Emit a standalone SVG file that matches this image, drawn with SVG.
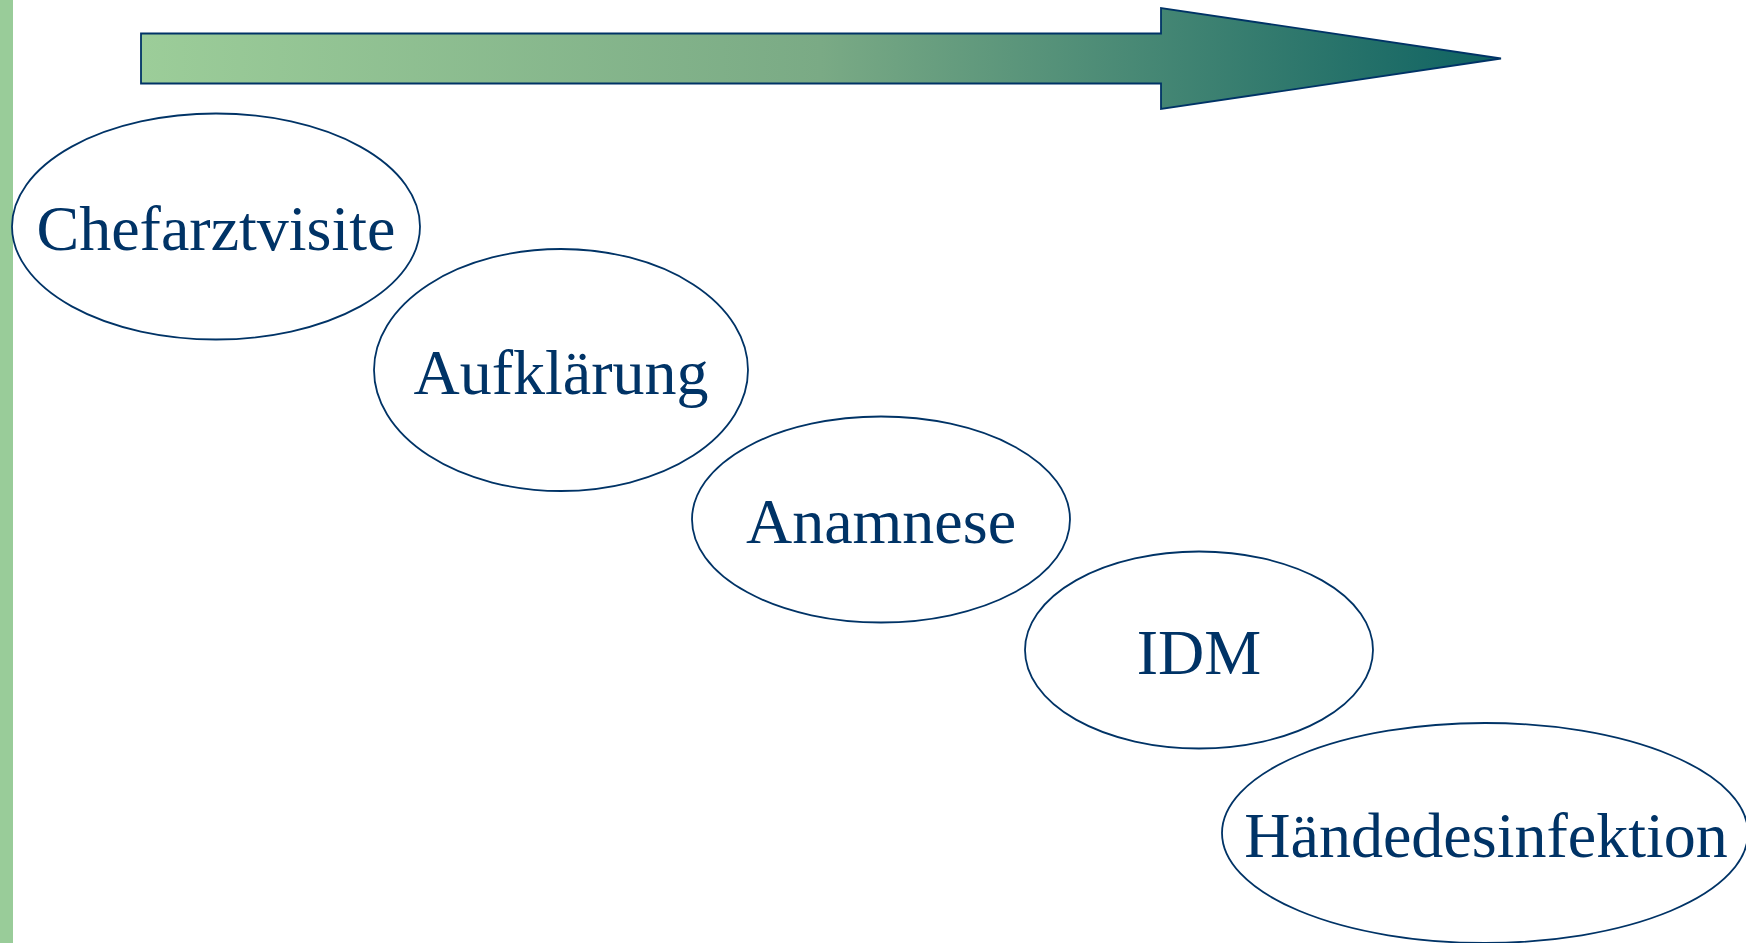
<svg xmlns="http://www.w3.org/2000/svg" width="1746" height="943" viewBox="0 0 1746 943">
<defs>
<linearGradient id="arrowGrad" x1="141" y1="0" x2="1501" y2="0" gradientUnits="userSpaceOnUse">
<stop offset="0" stop-color="#9CCD99"/>
<stop offset="0.5" stop-color="#7AAA85"/>
<stop offset="1" stop-color="#0E6262"/>
</linearGradient>
<style>
.node ellipse{fill:#FFFFFF;stroke:#003366;stroke-width:1.8}
.node text{font-family:"Liberation Serif","Times New Roman",serif;font-size:64px;fill:#003366;text-anchor:middle}
</style>
</defs>
<rect x="0" y="0" width="1746" height="943" fill="#FFFFFF"/>
<rect x="0" y="0" width="13" height="943" fill="#99CC99"/>
<g id="arrow">
<path d="M141,33.5 L1161,33.5 L1161,8 L1501,58.5 L1161,109 L1161,83.5 L141,83.5 Z" fill="url(#arrowGrad)" stroke="#003366" stroke-width="1.8" stroke-linejoin="miter"/>
</g>
<g id="connectors"></g>
<g id="n1" class="node">
<ellipse cx="216" cy="226.5" rx="204" ry="113"/>
<text x="216" y="250">Chefarztvisite</text>
</g>
<g id="n2" class="node">
<ellipse cx="561" cy="370" rx="187" ry="121"/>
<text x="561" y="394">Aufklärung</text>
</g>
<g id="n3" class="node">
<ellipse cx="881" cy="519.5" rx="189" ry="103"/>
<text x="881" y="543">Anamnese</text>
</g>
<g id="n4" class="node">
<ellipse cx="1199" cy="650" rx="174" ry="98.5"/>
<text x="1199" y="674">IDM</text>
</g>
<g id="n5" class="node">
<ellipse cx="1485" cy="833" rx="263" ry="110"/>
<text x="1486" y="857">Händedesinfektion</text>
</g>
</svg>
